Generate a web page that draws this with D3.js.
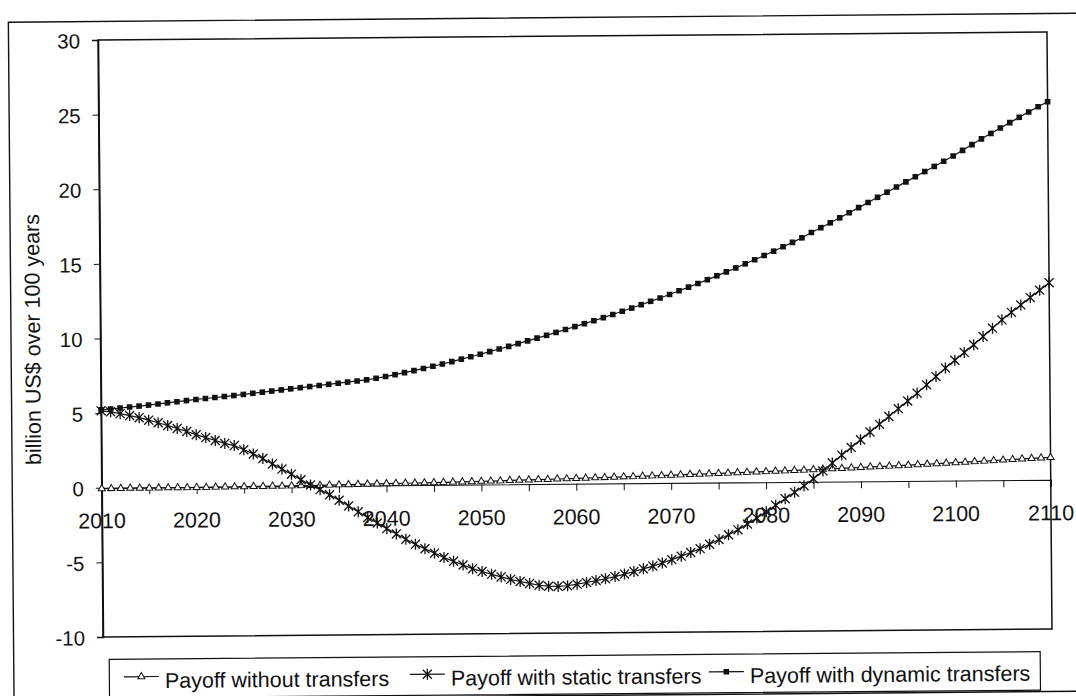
<!DOCTYPE html>
<html><head><meta charset="utf-8">
<script src="https://cdn.jsdelivr.net/npm/d3@7/dist/d3.min.js"></script>
<style>html,body{margin:0;padding:0;background:#fff;}svg{display:block;font-family:"Liberation Sans",Arial,sans-serif;}</style>
</head><body><svg id="c" width="1076" height="696"></svg>
<script>
const firstYear = 2010, lastYear = 2110;
const years = d3.range(firstYear, lastYear + 1);
const xTickLabels = [2010,2020,2030,2040,2050,2060,2070,2080,2090,2100,2110];
const xMinorTicks = [2010,2015,2020,2025,2030,2035,2040,2045,2050,2055,2060,2065,2070,2075,2080,2085,2090,2095,2100,2105,2110];
const yTicks = [-10,-5,0,5,10,15,20,25,30];
const yTitle = "billion US$ over 100 years";
const seriesNames = ["Payoff without transfers","Payoff with static transfers","Payoff with dynamic transfers"];

const withoutTransfers = [
-0.06,-0.06,-0.06,-0.05,-0.05,-0.05,-0.05,-0.04,-0.04,-0.04,
-0.03,-0.03,-0.02,-0.02,-0.01,-0.01,0.00,0.00,0.01,0.01,
0.02,0.03,0.03,0.04,0.05,0.06,0.07,0.08,0.09,0.10,
0.11,0.12,0.13,0.14,0.15,0.16,0.17,0.18,0.19,0.20,
0.22,0.23,0.24,0.26,0.27,0.28,0.30,0.31,0.33,0.34,
0.36,0.37,0.39,0.40,0.42,0.44,0.45,0.47,0.49,0.50,
0.52,0.54,0.56,0.57,0.59,0.61,0.63,0.65,0.67,0.69,
0.71,0.73,0.75,0.77,0.79,0.81,0.84,0.86,0.88,0.91,
0.93,0.96,0.98,1.01,1.03,1.06,1.09,1.11,1.14,1.17,
1.20,1.23,1.26,1.29,1.32,1.35,1.38,1.41,1.44,1.47,
1.50];

const staticTransfers = [
5.15,5.08,4.95,4.82,4.67,4.50,4.32,4.13,3.93,3.72,
3.50,3.30,3.10,2.90,2.75,2.46,2.18,1.87,1.50,1.15,
0.80,0.42,0.07,-0.25,-0.60,-0.97,-1.36,-1.76,-2.14,-2.52,
-2.90,-3.26,-3.62,-3.97,-4.27,-4.57,-4.87,-5.13,-5.38,-5.63,
-5.83,-6.02,-6.20,-6.37,-6.52,-6.65,-6.78,-6.85,-6.87,-6.83,
-6.73,-6.62,-6.50,-6.38,-6.24,-6.08,-5.91,-5.74,-5.56,-5.36,
-5.14,-4.91,-4.67,-4.42,-4.13,-3.82,-3.50,-3.18,-2.80,-2.40,
-1.98,-1.55,-1.12,-0.70,-0.27,0.20,0.72,1.25,1.77,2.28,
2.79,3.30,3.81,4.33,4.85,5.36,5.88,6.43,6.98,7.54,
8.06,8.58,9.09,9.64,10.19,10.74,11.24,11.73,12.22,12.71,
13.20];

const dynamicTransfers = [
5.22,5.27,5.33,5.39,5.45,5.51,5.58,5.65,5.72,5.79,
5.86,5.92,5.98,6.04,6.10,6.17,6.24,6.31,6.38,6.45,
6.52,6.59,6.66,6.73,6.80,6.87,6.94,7.01,7.08,7.18,
7.29,7.41,7.54,7.67,7.81,7.95,8.10,8.25,8.41,8.57,
8.73,8.90,9.07,9.24,9.42,9.60,9.78,9.96,10.15,10.34,
10.53,10.72,10.91,11.11,11.32,11.53,11.74,11.96,12.18,12.40,
12.63,12.87,13.11,13.35,13.60,13.85,14.11,14.37,14.64,14.91,
15.19,15.47,15.76,16.05,16.35,16.70,17.02,17.34,17.67,18.00,
18.34,18.68,19.02,19.36,19.70,20.04,20.38,20.72,21.06,21.40,
21.75,22.12,22.50,22.88,23.24,23.60,23.95,24.30,24.65,25.00,
25.33];

const svg = d3.select("#c");
svg.append("rect").attr("width",1076).attr("height",696).attr("fill","#fff");
const root = svg.append("g").attr("transform","rotate(-0.48,575,334.5)");

const L = 100.5, R = 1049.5, T = 36, B = 633;
const x = d3.scaleLinear().domain([firstYear, lastYear]).range([L, R]);
const y = d3.scaleLinear().domain([-10, 30]).range([B, T]);
const ink = "#111";

// outer chart frame
root.append("rect").attr("x",11).attr("y",17.5).attr("width",1090).attr("height",678)
  .attr("fill","none").attr("stroke",ink).attr("stroke-width",1.4);

// plot area border
root.append("rect").attr("x",L).attr("y",T).attr("width",R-L).attr("height",B-T)
  .attr("fill","none").attr("stroke",ink).attr("stroke-width",1.5);

// y axis
const yAxis = d3.axisLeft(y).tickValues(yTicks).tickSize(6).tickPadding(12).tickFormat(d => String(d));
const gy = root.append("g").attr("transform",`translate(${L},0)`).call(yAxis);
gy.select(".domain").attr("stroke",ink).attr("stroke-width",1.5);
gy.selectAll(".tick line").attr("stroke",ink);
gy.selectAll(".tick text").attr("font-size",20.5).attr("fill",ink).attr("font-family","Liberation Sans, Arial, sans-serif").attr("dy","0.38em");

// x axis at zero (ticks)
const xAxis = d3.axisBottom(x).tickValues(xMinorTicks).tickSize(7).tickFormat("");
const gx = root.append("g").attr("transform",`translate(0,${y(0)})`).call(xAxis);
gx.select(".domain").attr("stroke",ink).attr("stroke-width",1.1);
gx.selectAll(".tick line").attr("stroke",ink);
// x labels
root.append("g").selectAll("text").data(xTickLabels).join("text")
  .attr("x", d => x(d)).attr("y", y(0) + 40.5)
  .attr("text-anchor","middle").attr("font-size",21.5).attr("fill",ink).text(d => d);

// y title
root.append("text").attr("transform","translate(40,335) rotate(-90)")
  .attr("text-anchor","middle").attr("font-size",21.5).attr("fill",ink).text(yTitle);

// series
const line = d3.line().x((d,i) => x(years[i])).y(d => y(d));
const seriesData = [withoutTransfers, staticTransfers, dynamicTransfers];
const starPath = "M-4.5,-4.5L4.5,4.5M-4.5,4.5L4.5,-4.5M0,-5.5L0,5.5";
const triPath = d3.symbol(d3.symbolTriangle).size(22)();

function drawMarker(sel, k) {
  if (k === 0) {
    sel.append("path").attr("d", triPath).attr("fill","#fff").attr("stroke",ink).attr("stroke-width",1);
  } else if (k === 1) {
    sel.append("path").attr("d", starPath).attr("fill","none").attr("stroke",ink).attr("stroke-width",1.3);
  } else {
    sel.append("rect").attr("x",-2.8).attr("y",-2.8).attr("width",5.6).attr("height",5.6).attr("fill",ink);
  }
}

seriesData.forEach((vals, k) => {
  root.append("path").datum(vals).attr("d", line).attr("fill","none")
    .attr("stroke",ink).attr("stroke-width",1.2);
  const g = root.append("g");
  vals.forEach((v, i) => {
    const m = g.append("g").attr("transform",`translate(${x(years[i])},${y(v)})`);
    drawMarker(m, k);
  });
});

// legend
root.append("rect").attr("x",106.5).attr("y",655.5).attr("width",931).attr("height",38.5)
  .attr("fill","#fff").attr("stroke",ink).attr("stroke-width",1.2);
const legendX = [121, 407, 706];
seriesNames.forEach((name, k) => {
  const g = root.append("g").attr("transform",`translate(${legendX[k]},673)`);
  g.append("line").attr("x1",0).attr("x2",35).attr("y1",0).attr("y2",0).attr("stroke",ink).attr("stroke-width",1.2);
  const m = g.append("g").attr("transform","translate(17.5,0)");
  drawMarker(m, k);
  g.append("text").attr("x",41).attr("y",5).attr("dy","0.3em").attr("font-size",21.5).attr("fill",ink).text(name);
});
</script>
</body></html>
